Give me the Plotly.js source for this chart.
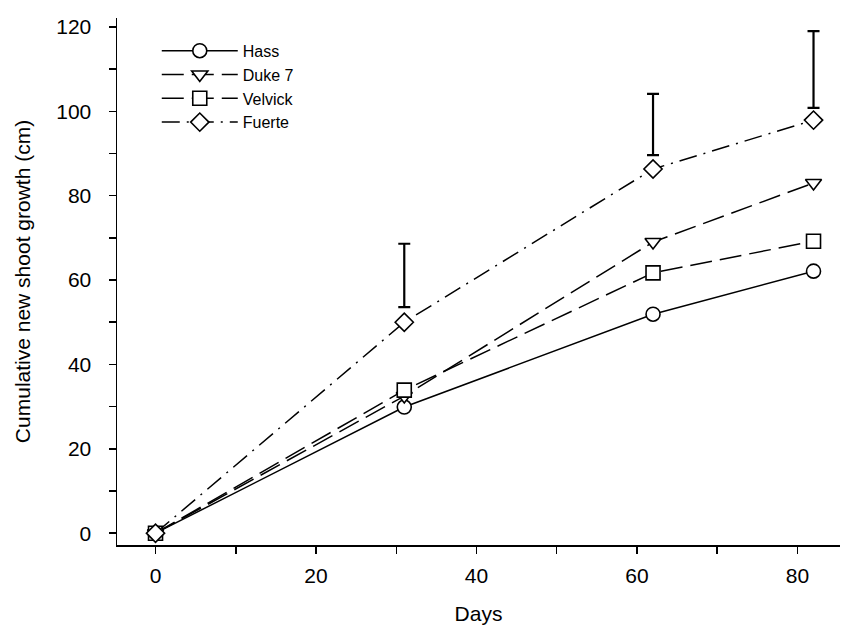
<!DOCTYPE html>
<html>
<head>
<meta charset="utf-8">
<script src="https://cdn.plot.ly/plotly-3.0.1.min.js"></script>
<style>html,body{margin:0;padding:0;background:#fff;}#chart{width:852px;height:626px;}</style>
</head>
<body>
<div id="chart"></div>
<script>
const days = [0, 31, 62, 82];
const hass = [0, 29.9, 51.9, 62.1];
const duke7 = [0, 32.5, 69.0, 83.0];
const velvick = [0, 33.9, 61.7, 69.2];
const fuerte = [0, 50.0, 86.3, 97.9];
const barDays = [31, 62, 82];
const barLow = [53.6, 89.6, 100.8];
const barHigh = [68.6, 104.1, 119.0];

const F = 'Liberation Sans, Arial, sans-serif';
function series(name, y, symbol, dash) {
  return {
    x: days, y: y, name: name, type: 'scatter', mode: 'lines+markers',
    line: {color: 'black', width: 1.5, dash: dash},
    marker: {symbol: symbol, size: 14, color: 'white', line: {color: 'black', width: 1.6}}
  };
}
const mid = barDays.map((d, i) => (barLow[i] + barHigh[i]) / 2);
const half = barDays.map((d, i) => (barHigh[i] - barLow[i]) / 2);
const data = [
  series('Hass', hass, 'circle', 'solid'),
  series('Duke 7', duke7, 'triangle-down', '22px,8px'),
  series('Velvick', velvick, 'square', '22px,8px'),
  series('Fuerte', fuerte, 'diamond', '18px,7px,2px,7px'),
  {x: barDays, y: mid, type: 'scatter', mode: 'markers', showlegend: false, hoverinfo: 'skip',
   marker: {size: 1, color: 'rgba(0,0,0,0)'},
   error_y: {type: 'data', array: half, visible: true, color: 'black', thickness: 2.2, width: 6}}
];
const layout = {
  width: 852, height: 626,
  paper_bgcolor: 'white', plot_bgcolor: 'white',
  margin: {l: 117, r: 12, t: 18, b: 81},
  font: {family: F, color: 'black', size: 22},
  showlegend: true,
  legend: {x: 0.055, y: 0.97, xanchor: 'left', yanchor: 'top', bgcolor: 'rgba(0,0,0,0)',
           font: {family: F, size: 16}, tracegroupgap: 0, itemwidth: 76},
  xaxis: {
    range: [-4.8, 85.3], showgrid: false, zeroline: false,
    showline: true, linecolor: 'black', linewidth: 1.5,
    ticks: 'outside', ticklen: 7, tickwidth: 1.5, tickcolor: 'black',
    tickvals: [0, 20, 40, 60, 80], ticktext: ['0', '20', '40', '60', '80'],
    minor: {tickvals: [10, 30, 50, 70], ticks: 'outside', ticklen: 7, tickwidth: 1.5, tickcolor: 'black'},
    tickfont: {family: F, size: 21}, ticklabelstandoff: 4,
    title: {text: 'Days', font: {family: F, size: 21}, standoff: 20}
  },
  yaxis: {
    range: [-2.8, 122.1], showgrid: false, zeroline: false,
    showline: true, linecolor: 'black', linewidth: 1.5,
    ticks: 'outside', ticklen: 7, tickwidth: 1.5, tickcolor: 'black',
    tickvals: [0, 20, 40, 60, 80, 100, 120],
    minor: {tickvals: [10, 30, 50, 70, 90, 110], ticks: 'outside', ticklen: 7, tickwidth: 1.5, tickcolor: 'black'},
    tickfont: {family: F, size: 21}, ticklabelstandoff: 13,
    title: {text: 'Cumulative new shoot growth (cm)', font: {family: F, size: 21}, standoff: 20}
  }
};
Plotly.newPlot('chart', data, layout, {displayModeBar: false, staticPlot: true});
</script>
</body>
</html>
